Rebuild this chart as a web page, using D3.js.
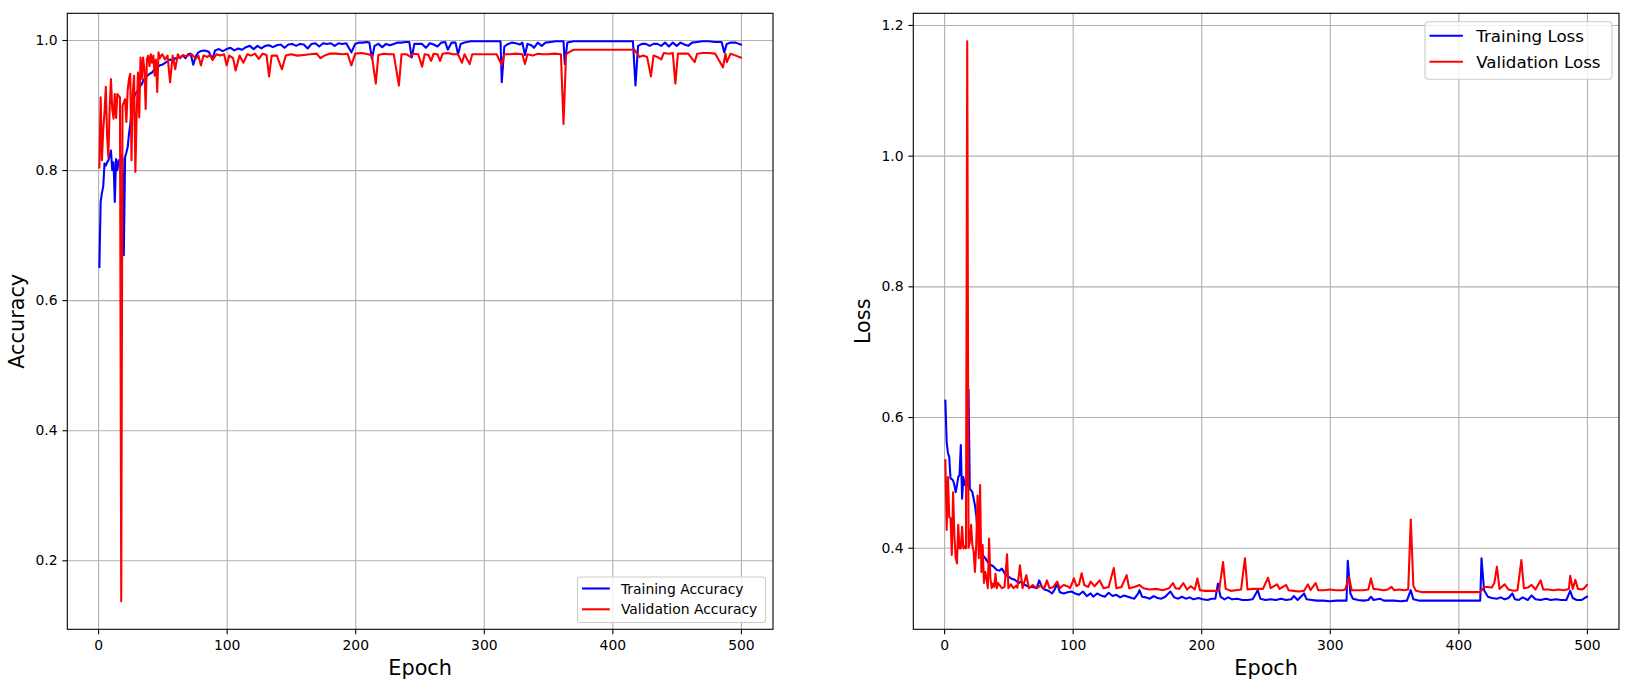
<!DOCTYPE html>
<html>
<head>
<meta charset="utf-8">
<script src="https://cdn.jsdelivr.net/npm/d3@7"></script>
<style>
  body { margin: 0; background: #fff; }
  svg { display: block; font-family: "DejaVu Sans", sans-serif; }
</style>
</head>
<body>
<div id="canvas"></div>
<script>
// values, [epoch, value]
const epochTicks = [0, 100, 200, 300, 400, 500];
const accTicks = [0.2, 0.4, 0.6, 0.8, 1.0];
const lossTicks = [0.4, 0.6, 0.8, 1.0, 1.2];

const trainAcc = [[1,0.651],[2,0.751],[3,0.765],[4,0.775],[5,0.810],[6,0.807],[7,0.812],[8,0.815],[9,0.822],[10,0.830],
  [11,0.800],[12,0.812],[13,0.751],[14,0.817],[15,0.800],[16,0.815],[17,0.810],[18,0.822],[19,0.818],[20,0.669],
  [21,0.820],[22,0.827],[23,0.835],[24,0.855],[25,0.870],[26,0.890],[27,0.904],[28,0.912],[29,0.917],[30,0.920],
  [31,0.922],[32,0.925],[33,0.930],[34,0.932],[35,0.937],[36,0.940],[37,0.942],[38,0.945],[39,0.946],[40,0.948],
  [42,0.950],[44,0.955],[46,0.958],[48,0.961],[50,0.962],[53,0.966],[56,0.970],[58,0.968],[60,0.972],[63,0.973],
  [66,0.976],[68,0.972],[70,0.978],[72,0.979],[74,0.962],[76,0.975],[78,0.981],[80,0.983],[83,0.984],[86,0.982],
  [89,0.971],[91,0.984],[94,0.986],[97,0.983],[100,0.986],[103,0.988],[106,0.984],[109,0.987],[112,0.985],[115,0.989],
  [118,0.991],[121,0.986],[124,0.991],[127,0.987],[130,0.991],[133,0.992],[136,0.989],[139,0.992],[142,0.993],[145,0.988],
  [148,0.993],[151,0.994],[154,0.991],[157,0.994],[160,0.993],[163,0.987],[166,0.994],[169,0.995],[172,0.990],[175,0.995],
  [178,0.994],[181,0.995],[184,0.991],[187,0.995],[190,0.994],[193,0.995],[197,0.981],[200,0.994],[203,0.996],[206,0.996],
  [209,0.997],[211,0.996],[213,0.971],[215,0.991],[218,0.994],[221,0.989],[224,0.994],[227,0.992],[230,0.994],[233,0.996],
  [236,0.996],[239,0.997],[242,0.997],[244,0.973],[246,0.994],[249,0.994],[252,0.994],[255,0.988],[258,0.995],[261,0.993],
  [264,0.990],[267,0.996],[270,0.997],[272,0.985],[275,0.996],[278,0.996],[280,0.978],[282,0.994],[285,0.996],[290,0.998],
  [295,0.998],[300,0.998],[305,0.998],[310,0.998],[313,0.998],[314,0.935],[316,0.990],[319,0.994],[322,0.996],[325,0.995],
  [328,0.993],[330,0.996],[332,0.977],[334,0.994],[337,0.992],[339,0.988],[342,0.996],[345,0.991],[348,0.996],[352,0.997],
  [356,0.998],[360,0.998],[362,0.998],[363,0.963],[365,0.996],[370,0.998],[380,0.998],[390,0.998],[400,0.998],[410,0.998],
  [416,0.998],[418,0.930],[420,0.991],[423,0.994],[426,0.994],[429,0.991],[432,0.994],[435,0.994],[438,0.991],[441,0.996],
  [444,0.990],[447,0.996],[450,0.991],[453,0.996],[456,0.993],[459,0.991],[462,0.996],[466,0.997],[470,0.998],[475,0.998],
  [480,0.997],[485,0.997],[487,0.981],[489,0.994],[492,0.996],[496,0.996],[500,0.993]];

const valAcc = [[1,0.804],[2,0.912],[3,0.815],[4,0.862],[5,0.889],[6,0.928],[7,0.853],[8,0.820],[9,0.894],[10,0.940],
  [11,0.894],[12,0.879],[13,0.917],[14,0.880],[15,0.917],[16,0.914],[17,0.912],[18,0.137],[19,0.899],[20,0.904],
  [21,0.909],[22,0.874],[23,0.922],[24,0.940],[25,0.948],[26,0.815],[27,0.920],[28,0.945],[29,0.797],[30,0.884],
  [31,0.950],[32,0.881],[33,0.973],[34,0.940],[35,0.973],[36,0.955],[37,0.894],[38,0.971],[39,0.976],[40,0.960],
  [41,0.978],[42,0.965],[43,0.976],[44,0.945],[45,0.970],[46,0.920],[47,0.981],[48,0.972],[49,0.976],[50,0.978],
  [52,0.970],[54,0.976],[56,0.935],[58,0.976],[60,0.955],[62,0.978],[64,0.972],[66,0.977],[68,0.975],[70,0.976],
  [73,0.978],[76,0.971],[78,0.976],[80,0.961],[82,0.976],[85,0.974],[87,0.977],[89,0.969],[92,0.978],[95,0.976],
  [98,0.978],[100,0.961],[102,0.976],[105,0.972],[107,0.953],[110,0.976],[113,0.965],[116,0.978],[119,0.976],[122,0.979],
  [125,0.971],[128,0.979],[131,0.977],[133,0.944],[135,0.976],[139,0.976],[143,0.955],[146,0.976],[150,0.978],[155,0.976],
  [160,0.977],[165,0.978],[170,0.979],[173,0.972],[176,0.976],[180,0.979],[185,0.979],[190,0.978],[194,0.979],[197,0.961],
  [200,0.979],[205,0.980],[210,0.978],[213,0.976],[216,0.933],[218,0.977],[222,0.979],[226,0.978],[230,0.978],[234,0.930],
  [236,0.978],[240,0.978],[243,0.974],[245,0.979],[249,0.978],[252,0.959],[254,0.978],[257,0.977],[259,0.968],[261,0.979],
  [264,0.978],[266,0.968],[268,0.979],[272,0.980],[276,0.978],[280,0.978],[283,0.965],[285,0.978],[289,0.963],[291,0.978],
  [295,0.978],[300,0.978],[305,0.978],[310,0.978],[314,0.961],[316,0.978],[320,0.978],[325,0.979],[330,0.978],[332,0.963],
  [334,0.978],[338,0.976],[342,0.979],[346,0.978],[350,0.978],[355,0.979],[360,0.978],[362,0.871],[364,0.978],[366,0.981],
  [370,0.985],[380,0.985],[390,0.985],[400,0.985],[410,0.985],[417,0.985],[419,0.980],[421,0.974],[424,0.976],[427,0.974],
  [430,0.944],[432,0.976],[435,0.974],[438,0.970],[440,0.980],[444,0.979],[447,0.980],[449,0.933],[451,0.979],[455,0.979],
  [459,0.979],[464,0.966],[466,0.979],[470,0.980],[475,0.980],[480,0.979],[486,0.958],[488,0.979],[489,0.966],[492,0.979],
  [496,0.976],[500,0.973]];

const trainLoss = [[1,0.625],[2,0.562],[3,0.545],[4,0.539],[5,0.506],[6,0.505],[7,0.503],[8,0.496],[9,0.485],[10,0.495],
  [11,0.508],[12,0.511],[13,0.557],[14,0.475],[15,0.508],[16,0.496],[17,0.500],[18,0.495],[19,0.642],[20,0.490],
  [21,0.488],[22,0.485],[23,0.475],[24,0.465],[25,0.450],[26,0.424],[27,0.410],[28,0.399],[29,0.394],[30,0.389],
  [32,0.384],[34,0.378],[36,0.374],[38,0.372],[41,0.366],[43,0.365],[45,0.368],[48,0.358],[50,0.356],[52,0.353],
  [55,0.351],[58,0.346],[60,0.348],[63,0.343],[66,0.340],[69,0.340],[72,0.338],[74,0.350],[76,0.340],[78,0.336],
  [80,0.335],[82,0.333],[84,0.330],[86,0.336],[88,0.345],[90,0.332],[93,0.330],[96,0.332],[99,0.333],[102,0.330],
  [105,0.328],[108,0.333],[111,0.326],[114,0.330],[116,0.325],[119,0.330],[122,0.327],[125,0.325],[128,0.331],[131,0.326],
  [134,0.328],[137,0.324],[140,0.327],[143,0.325],[146,0.323],[148,0.322],[151,0.330],[152,0.335],[154,0.325],[157,0.324],
  [160,0.322],[163,0.326],[166,0.323],[169,0.322],[172,0.325],[176,0.333],[179,0.324],[182,0.322],[185,0.325],[188,0.322],
  [191,0.324],[194,0.321],[198,0.323],[201,0.321],[205,0.320],[208,0.322],[211,0.322],[213,0.345],[215,0.325],[218,0.321],
  [221,0.324],[224,0.321],[228,0.322],[232,0.320],[236,0.320],[240,0.321],[244,0.335],[246,0.322],[250,0.320],[254,0.321],
  [258,0.320],[262,0.322],[266,0.320],[270,0.321],[272,0.326],[275,0.320],[280,0.330],[282,0.321],[286,0.320],[290,0.319],
  [295,0.319],[300,0.318],[305,0.319],[310,0.319],[313,0.319],[314,0.380],[316,0.330],[318,0.322],[322,0.320],[326,0.319],
  [330,0.320],[332,0.325],[334,0.320],[339,0.322],[342,0.319],[346,0.319],[350,0.319],[355,0.318],[360,0.319],[363,0.335],
  [365,0.321],[370,0.319],[380,0.319],[390,0.319],[400,0.319],[410,0.319],[417,0.319],[418,0.384],[420,0.335],[423,0.325],
  [426,0.323],[430,0.322],[433,0.324],[436,0.321],[439,0.323],[442,0.330],[444,0.321],[447,0.320],[450,0.324],[454,0.320],
  [457,0.327],[460,0.321],[464,0.320],[468,0.322],[472,0.320],[476,0.321],[480,0.320],[484,0.320],[487,0.334],[489,0.323],
  [492,0.320],[496,0.320],[500,0.325]];

const valLoss = [[1,0.534],[2,0.427],[3,0.508],[4,0.447],[5,0.445],[6,0.389],[7,0.485],[8,0.419],[9,0.385],[10,0.376],
  [11,0.435],[12,0.399],[13,0.399],[14,0.432],[15,0.399],[16,0.402],[17,0.399],[18,1.175],[19,0.400],[20,0.409],
  [21,0.435],[22,0.404],[23,0.394],[24,0.363],[25,0.404],[26,0.480],[27,0.384],[28,0.496],[29,0.363],[30,0.404],
  [31,0.346],[32,0.363],[33,0.353],[34,0.338],[35,0.414],[36,0.353],[37,0.338],[38,0.345],[39,0.340],[40,0.360],
  [41,0.338],[42,0.346],[43,0.343],[45,0.338],[47,0.340],[49,0.390],[50,0.338],[52,0.344],[54,0.338],[56,0.342],
  [57,0.339],[59,0.373],[61,0.338],[64,0.358],[66,0.338],[69,0.343],[72,0.338],[75,0.342],[78,0.338],[80,0.350],
  [82,0.338],[85,0.340],[88,0.348],[90,0.338],[93,0.343],[96,0.341],[98,0.338],[101,0.353],[103,0.341],[105,0.344],
  [107,0.361],[109,0.343],[112,0.340],[114,0.348],[117,0.341],[121,0.350],[124,0.338],[128,0.340],[132,0.369],[134,0.338],
  [138,0.340],[142,0.358],[144,0.338],[148,0.340],[152,0.343],[155,0.338],[160,0.336],[165,0.337],[170,0.335],[175,0.338],
  [178,0.346],[180,0.338],[183,0.337],[186,0.346],[189,0.336],[192,0.341],[195,0.336],[197,0.353],[199,0.335],[203,0.334],
  [208,0.334],[212,0.334],[214,0.336],[217,0.378],[219,0.337],[223,0.334],[227,0.335],[231,0.336],[234,0.384],[236,0.336],
  [240,0.337],[244,0.337],[248,0.337],[252,0.354],[254,0.338],[259,0.344],[261,0.337],[266,0.343],[268,0.335],[272,0.334],
  [276,0.333],[280,0.334],[283,0.344],[285,0.335],[289,0.346],[291,0.335],[295,0.335],[300,0.336],[305,0.335],[310,0.335],
  [312,0.336],[315,0.355],[317,0.335],[322,0.335],[326,0.335],[330,0.336],[332,0.353],[334,0.337],[338,0.336],[342,0.335],
  [345,0.336],[348,0.340],[350,0.335],[354,0.336],[358,0.335],[361,0.336],[363,0.443],[365,0.342],[367,0.334],[372,0.332],
  [380,0.332],[390,0.332],[400,0.332],[410,0.332],[417,0.332],[420,0.340],[423,0.340],[426,0.339],[428,0.346],[430,0.371],
  [432,0.337],[436,0.344],[439,0.336],[443,0.334],[446,0.335],[449,0.381],[451,0.338],[454,0.339],[457,0.343],[460,0.336],
  [464,0.350],[466,0.336],[470,0.336],[474,0.335],[478,0.336],[482,0.335],[486,0.337],[487,0.357],[489,0.337],[491,0.351],
  [493,0.337],[496,0.336],[498,0.338],[500,0.343]];

const width = 1630;
const height = 688;
const plotTop = 13.3, plotBottom = 629.3;

const svg = d3.select("#canvas").append("svg")
  .attr("width", width)
  .attr("height", height);
svg.append("rect").attr("width", width).attr("height", height).attr("fill", "#fff");

// matplotlib-like 5% margins around the data
function padded(ext) {
  const m = (ext[1] - ext[0]) * 0.05;
  return [ext[0] - m, ext[1] + m];
}

function drawPanel(opt) {
  const { left, right, series, yTicks, yLabel, yLabelX, legend } = opt;
  const all = series.flatMap(s => s.data);

  const x = d3.scaleLinear()
    .domain(padded(d3.extent(all, d => d[0])))
    .range([left, right]);
  const y = d3.scaleLinear()
    .domain(padded(d3.extent(all, d => d[1])))
    .range([plotBottom, plotTop]);

  const g = svg.append("g");

  // grid
  g.append("g")
    .attr("transform", `translate(0,${plotBottom})`)
    .call(d3.axisBottom(x).tickValues(epochTicks).tickSize(-(plotBottom - plotTop)).tickFormat(""))
    .call(a => a.select(".domain").remove())
    .selectAll("line").attr("stroke", "#b0b0b0").attr("stroke-width", 1.1);
  g.append("g")
    .attr("transform", `translate(${left},0)`)
    .call(d3.axisLeft(y).tickValues(yTicks).tickSize(-(right - left)).tickFormat(""))
    .call(a => a.select(".domain").remove())
    .selectAll("line").attr("stroke", "#b0b0b0").attr("stroke-width", 1.1);

  // lines
  const line = d3.line().x(d => x(d[0])).y(d => y(d[1]));
  const clipId = "clip" + Math.round(left);
  svg.append("clipPath").attr("id", clipId)
    .append("rect").attr("x", left).attr("y", plotTop)
    .attr("width", right - left).attr("height", plotBottom - plotTop);
  series.forEach(s => {
    g.append("path")
      .datum(s.data)
      .attr("clip-path", `url(#${clipId})`)
      .attr("fill", "none")
      .attr("stroke", s.color)
      .attr("stroke-width", 2.08)
      .attr("stroke-linejoin", "round")
      .attr("stroke-linecap", "square")
      .attr("d", line);
  });

  // axes with ticks and labels
  const xa = g.append("g")
    .attr("transform", `translate(0,${plotBottom})`)
    .call(d3.axisBottom(x).tickValues(epochTicks).tickSize(4.9).tickPadding(6).tickFormat(d3.format("d")));
  const ya = g.append("g")
    .attr("transform", `translate(${left},0)`)
    .call(d3.axisLeft(y).tickValues(yTicks).tickSize(4.9).tickPadding(4.9).tickFormat(d3.format(".1f")));
  [xa, ya].forEach(a => {
    a.select(".domain").remove();
    a.selectAll("line").attr("stroke", "#000").attr("stroke-width", 1.1);
    a.selectAll("text").attr("fill", "#000").style("font-size", "13.9px")
      .style("font-family", "'DejaVu Sans', sans-serif");
  });

  // frame
  g.append("rect")
    .attr("x", left).attr("y", plotTop)
    .attr("width", right - left).attr("height", plotBottom - plotTop)
    .attr("fill", "none").attr("stroke", "#000").attr("stroke-width", 1.1);

  // axis titles
  g.append("text")
    .attr("x", (left + right) / 2).attr("y", 675)
    .attr("text-anchor", "middle")
    .style("font-size", "20.8px")
    .text("Epoch");
  g.append("text")
    .attr("transform", `translate(${yLabelX},${(plotTop + plotBottom) / 2}) rotate(-90)`)
    .attr("text-anchor", "middle")
    .style("font-size", "20.8px")
    .text(yLabel);

  // legend
  const lg = g.append("g");
  lg.append("rect")
    .attr("x", legend.x).attr("y", legend.y)
    .attr("width", legend.w).attr("height", legend.h)
    .attr("rx", legend.fs * 0.2)
    .attr("fill", "#fff").attr("fill-opacity", 0.8)
    .attr("stroke", "#cccccc").attr("stroke-width", 1.1);
  series.forEach((s, i) => {
    const cy = legend.y + legend.row0 + i * legend.step;
    lg.append("line")
      .attr("x1", legend.x + 4.5).attr("x2", legend.x + 4.5 + legend.fs * 2)
      .attr("y1", cy).attr("y2", cy)
      .attr("stroke", s.color).attr("stroke-width", 2.08);
    lg.append("text")
      .attr("x", legend.x + 4.5 + legend.fs * 2.8)
      .attr("y", cy)
      .attr("dy", "0.36em")
      .style("font-size", legend.fs + "px")
      .text(s.name);
  });
}

drawPanel({
  left: 67.3, right: 773,
  series: [
    { name: "Training Accuracy", color: "#0000ff", data: trainAcc },
    { name: "Validation Accuracy", color: "#ff0000", data: valAcc }
  ],
  yTicks: accTicks,
  yLabel: "Accuracy",
  yLabelX: 24,
  legend: { x: 577.5, y: 577, w: 188, h: 45.5, fs: 13.9, row0: 11.5, step: 20.8 }
});

drawPanel({
  left: 913.3, right: 1619,
  series: [
    { name: "Training Loss", color: "#0000ff", data: trainLoss },
    { name: "Validation Loss", color: "#ff0000", data: valLoss }
  ],
  yTicks: lossTicks,
  yLabel: "Loss",
  yLabelX: 870,
  legend: { x: 1425, y: 21.7, w: 187, h: 57.5, fs: 16.7, row0: 14, step: 26 }
});
</script>
</body>
</html>
